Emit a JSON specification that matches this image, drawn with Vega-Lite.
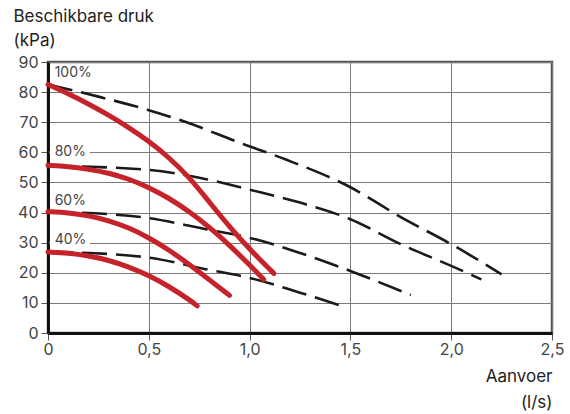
{
  "$schema": "https://vega.github.io/schema/vega-lite/v6.json",
  "width": 504,
  "height": 271,
  "autosize": {"type": "none"},
  "padding": {"left": 48, "top": 62, "right": 18, "bottom": 81},
  "background": "white",
  "config": {
    "font": "Inter",
    "view": {"stroke": "#555555", "strokeWidth": 2.5}
  },
  "datasets": {
    "curves": [
      {"series": "100%", "kind": "pump", "x": 0, "y": 82.5},
      {"series": "100%", "kind": "pump", "x": 0.1, "y": 79.5},
      {"series": "100%", "kind": "pump", "x": 0.2, "y": 76.1},
      {"series": "100%", "kind": "pump", "x": 0.3, "y": 72.4},
      {"series": "100%", "kind": "pump", "x": 0.4, "y": 68.3},
      {"series": "100%", "kind": "pump", "x": 0.5, "y": 63.7},
      {"series": "100%", "kind": "pump", "x": 0.6, "y": 58.3},
      {"series": "100%", "kind": "pump", "x": 0.7, "y": 51.8},
      {"series": "100%", "kind": "pump", "x": 0.8, "y": 43.5},
      {"series": "100%", "kind": "pump", "x": 0.9, "y": 35.3},
      {"series": "100%", "kind": "pump", "x": 1.0, "y": 27.8},
      {"series": "100%", "kind": "pump", "x": 1.12, "y": 19.8},
      {"series": "80%", "kind": "pump", "x": 0, "y": 55.7},
      {"series": "80%", "kind": "pump", "x": 0.1, "y": 55.3},
      {"series": "80%", "kind": "pump", "x": 0.2, "y": 54.4},
      {"series": "80%", "kind": "pump", "x": 0.3, "y": 53.2},
      {"series": "80%", "kind": "pump", "x": 0.4, "y": 51.2},
      {"series": "80%", "kind": "pump", "x": 0.5, "y": 48.4},
      {"series": "80%", "kind": "pump", "x": 0.6, "y": 44.8},
      {"series": "80%", "kind": "pump", "x": 0.7, "y": 40.4},
      {"series": "80%", "kind": "pump", "x": 0.8, "y": 35.2},
      {"series": "80%", "kind": "pump", "x": 0.9, "y": 29.2},
      {"series": "80%", "kind": "pump", "x": 1.0, "y": 22.6},
      {"series": "80%", "kind": "pump", "x": 1.07, "y": 17.8},
      {"series": "60%", "kind": "pump", "x": 0, "y": 40.3},
      {"series": "60%", "kind": "pump", "x": 0.1, "y": 40},
      {"series": "60%", "kind": "pump", "x": 0.2, "y": 39},
      {"series": "60%", "kind": "pump", "x": 0.3, "y": 37.4},
      {"series": "60%", "kind": "pump", "x": 0.4, "y": 35},
      {"series": "60%", "kind": "pump", "x": 0.5, "y": 31.7},
      {"series": "60%", "kind": "pump", "x": 0.6, "y": 27.6},
      {"series": "60%", "kind": "pump", "x": 0.7, "y": 22.8},
      {"series": "60%", "kind": "pump", "x": 0.8, "y": 17.7},
      {"series": "60%", "kind": "pump", "x": 0.9, "y": 12.5},
      {"series": "40%", "kind": "pump", "x": 0, "y": 26.9},
      {"series": "40%", "kind": "pump", "x": 0.1, "y": 26.6},
      {"series": "40%", "kind": "pump", "x": 0.2, "y": 25.7},
      {"series": "40%", "kind": "pump", "x": 0.3, "y": 24.2},
      {"series": "40%", "kind": "pump", "x": 0.4, "y": 22},
      {"series": "40%", "kind": "pump", "x": 0.5, "y": 19.1},
      {"series": "40%", "kind": "pump", "x": 0.6, "y": 15.5},
      {"series": "40%", "kind": "pump", "x": 0.7, "y": 11.1},
      {"series": "40%", "kind": "pump", "x": 0.74, "y": 9.0},
      {"series": "100%", "kind": "max", "x": 0, "y": 82.5},
      {"series": "100%", "kind": "max", "x": 0.25, "y": 78.5},
      {"series": "100%", "kind": "max", "x": 0.5, "y": 74},
      {"series": "100%", "kind": "max", "x": 0.67, "y": 70.4},
      {"series": "100%", "kind": "max", "x": 0.95, "y": 63.2},
      {"series": "100%", "kind": "max", "x": 1.18, "y": 57.6},
      {"series": "100%", "kind": "max", "x": 1.5, "y": 48.4},
      {"series": "100%", "kind": "max", "x": 1.75, "y": 38.5},
      {"series": "100%", "kind": "max", "x": 2.0, "y": 29.5},
      {"series": "100%", "kind": "max", "x": 2.25, "y": 19.5},
      {"series": "80%", "kind": "max", "x": 0, "y": 55.5},
      {"series": "80%", "kind": "max", "x": 0.48, "y": 54.3},
      {"series": "80%", "kind": "max", "x": 0.79, "y": 51},
      {"series": "80%", "kind": "max", "x": 1.0, "y": 47.6},
      {"series": "80%", "kind": "max", "x": 1.25, "y": 43.3},
      {"series": "80%", "kind": "max", "x": 1.5, "y": 37.8},
      {"series": "80%", "kind": "max", "x": 1.75, "y": 29.5},
      {"series": "80%", "kind": "max", "x": 2.0, "y": 22.3},
      {"series": "80%", "kind": "max", "x": 2.15, "y": 17.8},
      {"series": "60%", "kind": "max", "x": 0, "y": 40.3},
      {"series": "60%", "kind": "max", "x": 0.46, "y": 38.5},
      {"series": "60%", "kind": "max", "x": 0.79, "y": 34.4},
      {"series": "60%", "kind": "max", "x": 1.0, "y": 31.6},
      {"series": "60%", "kind": "max", "x": 1.25, "y": 26.6},
      {"series": "60%", "kind": "max", "x": 1.5, "y": 20.6},
      {"series": "60%", "kind": "max", "x": 1.8, "y": 12.6},
      {"series": "40%", "kind": "max", "x": 0, "y": 27},
      {"series": "40%", "kind": "max", "x": 0.47, "y": 25.3},
      {"series": "40%", "kind": "max", "x": 0.79, "y": 21.1},
      {"series": "40%", "kind": "max", "x": 1.0, "y": 18.3},
      {"series": "40%", "kind": "max", "x": 1.25, "y": 13.4},
      {"series": "40%", "kind": "max", "x": 1.48, "y": 8.5}
    ],
    "labels": [
      {"label": "100%", "x": 0.033, "y": 86.5},
      {"label": "80%", "x": 0.033, "y": 60.1},
      {"label": "60%", "x": 0.033, "y": 44},
      {"label": "40%", "x": 0.033, "y": 30.8}
    ],
    "gaps": [
      {"x": 0.008, "x2": 0.207, "y": 60},
      {"x": 0.008, "x2": 0.207, "y": 30}
    ]
  },
  "encoding": {
    "x": {
      "field": "x",
      "type": "quantitative",
      "scale": {"domain": [0, 2.5], "nice": false},
      "axis": {
        "values": [0, 0.5, 1, 1.5, 2, 2.5],
        "labelExpr": "datum.value == 0 ? '0' : replace(format(datum.value, '.1f'), '.', ',')",
        "grid": true,
        "gridColor": "#7a7a7a",
        "gridWidth": 1,
        "gridOpacity": 1,
        "domainColor": "#111111",
        "domainWidth": 3,
        "tickColor": "#555555",
        "tickSize": 7,
        "tickWidth": 1,
        "labelFontSize": 16,
        "labelColor": "#444444",
        "labelPadding": 1,
        "labelFlush": false,
        "title": ["Aanvoer", "(l/s)"],
        "titleAngle": 0,
        "titleAlign": "right",
        "titleBaseline": "top",
        "titleX": 504,
        "titleY": 35,
        "titleFontSize": 17,
        "titleFontWeight": "normal",
        "titleColor": "#222222",
        "titleLineHeight": 26
      }
    },
    "y": {
      "field": "y",
      "type": "quantitative",
      "scale": {"domain": [0, 90], "nice": false},
      "axis": {
        "values": [0, 10, 20, 30, 40, 50, 60, 70, 80, 90],
        "grid": true,
        "gridColor": "#7a7a7a",
        "gridWidth": 1,
        "gridOpacity": 1,
        "domainColor": "#111111",
        "domainWidth": 3,
        "tickColor": "#555555",
        "tickSize": 7,
        "tickWidth": 1,
        "labelFontSize": 16,
        "labelColor": "#444444",
        "labelPadding": 3,
        "labelFlush": false,
        "title": ["Beschikbare druk", "(kPa)"],
        "titleAngle": 0,
        "titleAlign": "left",
        "titleBaseline": "top",
        "titleX": -35,
        "titleY": -54,
        "titleFontSize": 17,
        "titleFontWeight": "normal",
        "titleColor": "#222222",
        "titleLineHeight": 24
      }
    }
  },
  "layer": [
    {
      "data": {"name": "gaps"},
      "mark": {"type": "rule", "color": "white", "strokeWidth": 3},
      "encoding": {"x2": {"field": "x2"}}
    },
    {
      "data": {"name": "curves"},
      "transform": [{"filter": "datum.kind == 'max'"}],
      "mark": {"type": "line", "color": "#1a1a1a", "strokeWidth": 2.6, "strokeDash": [25, 9], "interpolate": "monotone"},
      "encoding": {"detail": {"field": "series"}, "order": {"field": "x", "type": "quantitative"}}
    },
    {
      "data": {"name": "curves"},
      "transform": [{"filter": "datum.kind == 'pump'"}],
      "mark": {"type": "line", "color": "#c62229", "strokeWidth": 5, "strokeCap": "round", "strokeJoin": "round", "interpolate": "basis"},
      "encoding": {"detail": {"field": "series"}, "order": {"field": "x", "type": "quantitative"}}
    },
    {
      "data": {"name": "labels"},
      "mark": {"type": "text", "align": "left", "baseline": "middle", "fontSize": 14, "color": "#444444"},
      "encoding": {"text": {"field": "label"}}
    }
  ]
}
